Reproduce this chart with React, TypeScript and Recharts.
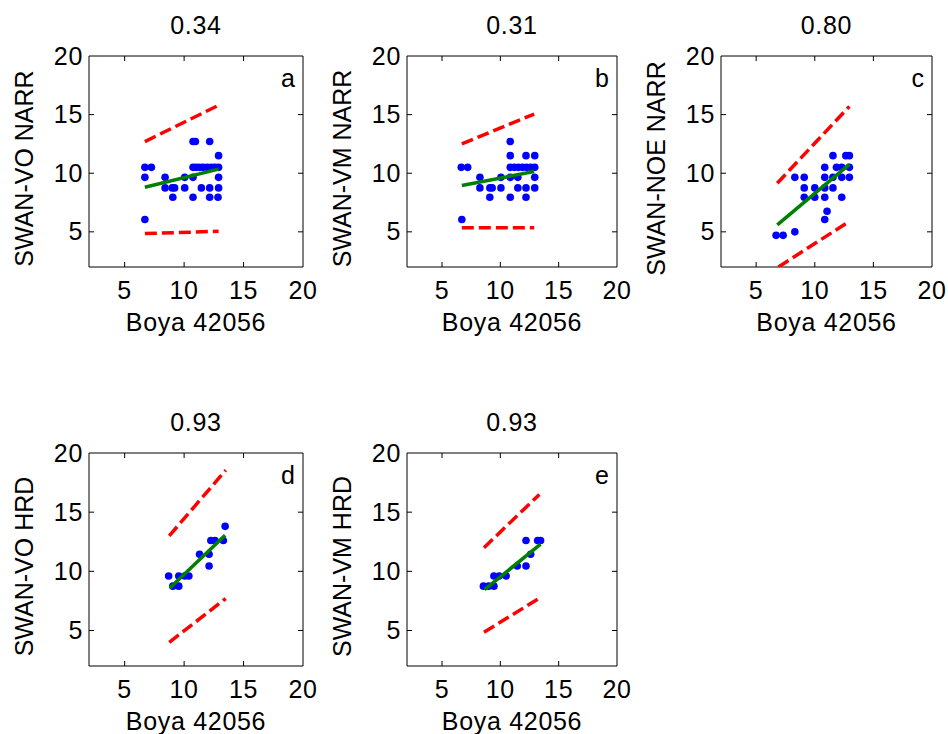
import React from 'react';
import { ScatterChart, Scatter, XAxis, YAxis, ReferenceArea, Label } from 'recharts';

type Pt = [number, number];

const titles = ['0.34', '0.31', '0.80', '0.93', '0.93'];
const letters = ['a', 'b', 'c', 'd', 'e'];
const yLabels = ['SWAN-VO NARR', 'SWAN-VM NARR', 'SWAN-NOE NARR', 'SWAN-VO HRD', 'SWAN-VM HRD'];
const xLabel = 'Boya 42056';
const axisTicks = [5, 10, 15, 20];
const axisDomain: [number, number] = [2, 20];

// buoy vs model points
const pointsA: Pt[] = [
  [6.7, 10.5], [7.25, 10.5], [6.7, 9.65], [6.7, 6.05], [8.4, 9.65], [8.4, 8.75], [9.0, 8.75],
  [9.2, 8.75], [9.05, 7.95], [10.05, 8.75], [10.05, 9.65], [10.75, 9.65], [10.75, 7.95],
  [10.75, 12.7], [10.95, 12.7], [10.75, 10.5], [11.0, 10.5], [11.3, 10.5], [11.6, 10.5],
  [11.95, 10.5], [12.3, 10.5], [12.6, 10.5], [12.9, 10.5], [11.45, 8.75], [12.15, 12.7],
  [12.15, 8.75], [12.15, 7.95], [12.85, 7.95], [12.9, 8.75], [12.9, 9.65], [12.9, 11.5],
];
const pointsB: Pt[] = [
  [6.65, 10.5], [7.2, 10.5], [6.7, 6.05], [8.25, 9.65], [8.25, 8.75], [9.1, 8.75], [9.3, 8.75],
  [9.1, 7.95], [10.05, 8.75], [10.05, 9.65], [10.85, 12.7], [10.85, 11.5], [10.85, 10.5],
  [11.2, 10.5], [11.55, 10.5], [11.9, 10.5], [12.25, 10.5], [12.6, 10.5], [12.95, 10.5],
  [10.85, 9.65], [10.85, 7.95], [11.5, 9.65], [11.5, 8.75], [12.2, 11.5], [12.2, 8.75],
  [12.2, 7.95], [12.95, 11.5], [12.95, 9.65], [12.95, 8.75],
];
const pointsC: Pt[] = [
  [6.7, 4.7], [7.3, 4.7], [8.3, 5.0], [8.3, 9.65], [9.1, 9.65], [9.1, 8.75], [9.1, 7.95],
  [10.0, 8.75], [10.0, 7.95], [10.85, 10.5], [10.85, 9.65], [10.85, 8.75], [10.85, 7.95],
  [10.85, 6.05], [11.05, 6.75], [11.55, 11.5], [11.55, 9.65], [11.55, 8.75], [11.85, 10.5],
  [12.3, 10.5], [12.3, 9.65], [12.3, 7.95], [12.65, 11.5], [12.95, 11.5], [12.95, 10.5],
  [12.95, 9.65],
];
const pointsD: Pt[] = [
  [8.7, 9.6], [9.05, 8.75], [9.55, 8.75], [9.55, 9.6], [10.05, 9.6], [10.4, 9.6], [11.3, 11.45],
  [12.1, 11.45], [12.1, 10.45], [12.25, 12.6], [12.6, 12.6], [13.3, 12.6], [13.45, 13.8],
];
const pointsE: Pt[] = [
  [8.55, 8.75], [9.0, 8.75], [9.45, 8.75], [9.45, 9.6], [9.9, 9.6], [10.5, 9.6], [11.45, 10.45],
  [12.2, 10.45], [12.2, 12.6], [12.6, 11.45], [13.2, 12.6], [13.45, 12.6],
];

// regression fit and bounds
const fitA: Pt[] = [[6.7, 8.8], [12.9, 10.35]];
const upperA: Pt[] = [[6.7, 12.7], [12.9, 15.8]];
const lowerA: Pt[] = [[6.7, 4.85], [12.9, 5.05]];
const fitB: Pt[] = [[6.7, 8.95], [12.9, 10.15]];
const upperB: Pt[] = [[6.7, 12.5], [12.9, 15.05]];
const lowerB: Pt[] = [[6.7, 5.35], [12.9, 5.35]];
const fitC: Pt[] = [[6.8, 5.6], [12.95, 10.75]];
const upperC: Pt[] = [[6.8, 9.15], [12.95, 15.7]];
const lowerC: Pt[] = [[6.9, 2.0], [12.95, 5.9]];
const fitD: Pt[] = [[8.8, 8.6], [13.45, 13.05]];
const upperD: Pt[] = [[8.75, 13.0], [13.5, 18.55]];
const lowerD: Pt[] = [[8.75, 4.0], [13.5, 7.7]];
const fitE: Pt[] = [[8.65, 8.45], [13.45, 12.3]];
const upperE: Pt[] = [[8.6, 12.0], [13.35, 16.5]];
const lowerE: Pt[] = [[8.6, 4.85], [13.45, 7.8]];

const FONT = '"Liberation Sans", Arial, sans-serif';
const FS = 25;
const LS = 0.7; // horizontal texts look a bit wider in the original
const Y_AXIS_W = 89;
const TOP = 56;
const RIGHT = 16;
const X_AXIS_H = 80;

const toObj = (pts: Pt[]) => pts.map(([x, y]) => ({ x, y }));
const dot = (p: any) => <circle cx={p.cx} cy={p.cy} r={3.8} fill="#0000ff" />;
const noDot = () => <g />;

interface PanelProps {
  idx: number;
  left: number;
  top: number;
  pw: number;
  ph: number;
  points: Pt[];
  fit: Pt[];
  upper: Pt[];
  lower: Pt[];
}

function Panel({ idx, left, top, pw, ph, points, fit, upper, lower }: PanelProps) {
  const width = Y_AXIS_W + pw + RIGHT;
  const height = TOP + ph + X_AXIS_H;
  const cx = Y_AXIS_W + pw / 2;
  const cy = TOP + ph / 2;

  const xTick = (p: any) => {
    const v = p.payload.value;
    return (
      <g>
        {v < 20 && <line x1={p.x} x2={p.x} y1={p.y} y2={p.y - 5} stroke="#000" />}
        {v < 20 && <line x1={p.x} x2={p.x} y1={p.y - ph} y2={p.y - ph + 5} stroke="#000" />}
        <text x={p.x} y={p.y + 32} textAnchor="middle" fontSize={FS} fontFamily={FONT} letterSpacing={LS} fill="#000">
          {v}
        </text>
      </g>
    );
  };

  const yTick = (p: any) => {
    const v = p.payload.value;
    return (
      <g>
        {v < 20 && <line x1={p.x} x2={p.x + 5} y1={p.y} y2={p.y} stroke="#000" />}
        {v < 20 && <line x1={p.x + pw} x2={p.x + pw - 5} y1={p.y} y2={p.y} stroke="#000" />}
        <text x={p.x - 6} y={p.y + 8.5} textAnchor="end" fontSize={FS} fontFamily={FONT} letterSpacing={LS} fill="#000">
          {v}
        </text>
      </g>
    );
  };

  return (
    <div style={{ position: 'absolute', left: left - Y_AXIS_W, top: top - TOP }}>
      <ScatterChart width={width} height={height} margin={{ top: TOP, right: RIGHT, bottom: 0, left: 0 }}>
        <XAxis
          type="number"
          dataKey="x"
          domain={axisDomain}
          ticks={axisTicks}
          allowDataOverflow
          axisLine={false}
          tickLine={false}
          tickSize={0}
          tickMargin={0}
          height={X_AXIS_H}
          tick={xTick}
          label={{
            content: () => (
              <text x={cx} y={TOP + ph + 64} textAnchor="middle" fontSize={FS} fontFamily={FONT} letterSpacing={LS} fill="#000">
                {xLabel}
              </text>
            ),
          }}
        />
        <YAxis
          type="number"
          dataKey="y"
          domain={axisDomain}
          ticks={axisTicks}
          allowDataOverflow
          axisLine={false}
          tickLine={false}
          tickSize={0}
          tickMargin={0}
          width={Y_AXIS_W}
          tick={yTick}
          label={{
            content: () => (
              <text
                x={Y_AXIS_W - 56}
                y={cy + 7}
                transform={`rotate(-90 ${Y_AXIS_W - 56} ${cy + 7})`}
                textAnchor="middle"
                fontSize={FS}
                fontFamily={FONT}
                fill="#000"
              >
                {yLabels[idx]}
              </text>
            ),
          }}
        />
        <ReferenceArea x1={2} x2={20} y1={2} y2={20} fill="none" stroke="#000" strokeWidth={1}>
          <Label
            content={() => (
              <text x={cx} y={TOP - 22} textAnchor="middle" fontSize={FS} fontFamily={FONT} letterSpacing={LS} fill="#000">
                {titles[idx]}
              </text>
            )}
          />
          <Label
            content={() => (
              <text x={Y_AXIS_W + pw - 8} y={TOP + 31} textAnchor="end" fontSize={FS} fontFamily={FONT} fill="#000">
                {letters[idx]}
              </text>
            )}
          />
        </ReferenceArea>
        <Scatter data={toObj(points)} shape={dot} isAnimationActive={false} />
        <Scatter
          data={toObj(upper)}
          shape={noDot}
          line={{ stroke: '#ff0000', strokeWidth: 3.5, strokeDasharray: '12 5' }}
          isAnimationActive={false}
        />
        <Scatter
          data={toObj(lower)}
          shape={noDot}
          line={{ stroke: '#ff0000', strokeWidth: 3.5, strokeDasharray: '12 5' }}
          isAnimationActive={false}
        />
        <Scatter
          data={toObj(fit)}
          shape={noDot}
          line={{ stroke: '#008000', strokeWidth: 3.5 }}
          isAnimationActive={false}
        />
      </ScatterChart>
    </div>
  );
}

export default function App() {
  return (
    <div
      style={{
        position: 'absolute',
        left: 0,
        top: 0,
        width: 948,
        height: 734,
        background: '#fff',
        overflow: 'hidden',
        fontFamily: FONT,
      }}
    >
      <Panel idx={0} left={89} top={56} pw={214} ph={211} points={pointsA} fit={fitA} upper={upperA} lower={lowerA} />
      <Panel idx={1} left={407} top={56} pw={210} ph={211} points={pointsB} fit={fitB} upper={upperB} lower={lowerB} />
      <Panel idx={2} left={721} top={56} pw={211} ph={211} points={pointsC} fit={fitC} upper={upperC} lower={lowerC} />
      <Panel idx={3} left={89} top={453} pw={214} ph={213} points={pointsD} fit={fitD} upper={upperD} lower={lowerD} />
      <Panel idx={4} left={407} top={453} pw={210} ph={213} points={pointsE} fit={fitE} upper={upperE} lower={lowerE} />
    </div>
  );
}
